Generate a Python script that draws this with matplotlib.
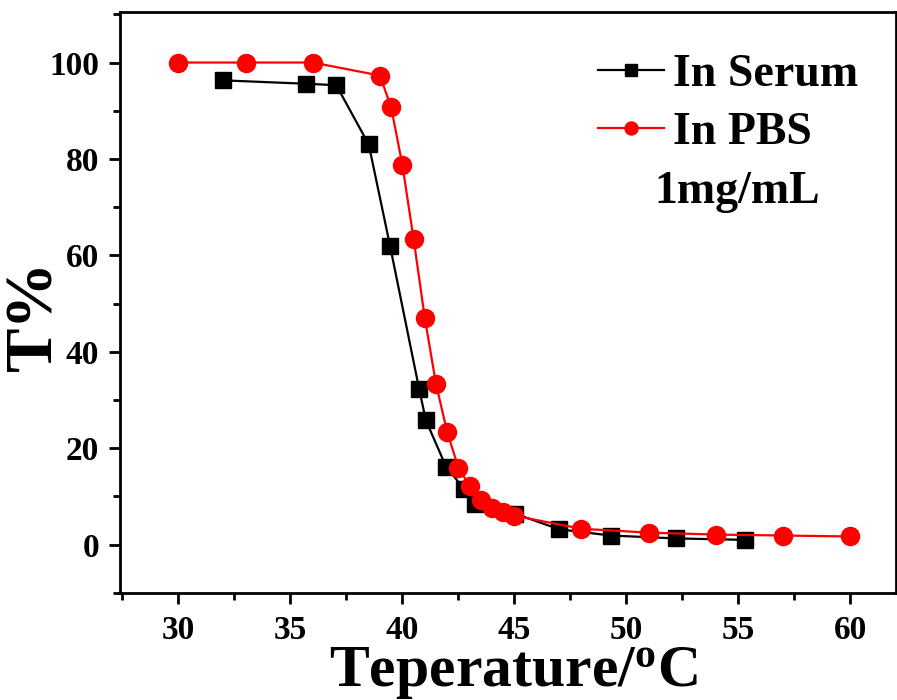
import matplotlib
matplotlib.use("Agg")
import matplotlib.pyplot as plt
from matplotlib.ticker import MultipleLocator

serum_x = [32.0, 35.7, 37.05, 38.5, 39.45, 40.75, 41.05, 41.95, 42.75, 43.25, 45.05, 47.0, 49.3, 52.2, 55.3]
serum_y = [96.3, 95.6, 95.3, 83.0, 62.0, 32.3, 25.8, 16.2, 11.6, 8.5, 6.4, 3.2, 1.9, 1.3, 1.0]

pbs_x = [30, 33, 36, 39, 39.5, 40, 40.5, 41, 41.5, 42, 42.5, 43, 43.5, 44, 44.5, 45, 48, 51, 54, 57, 60]
pbs_y = [100, 100, 100, 97.3, 90.7, 78.8, 63.5, 47.1, 33.4, 23.4, 16.0, 12.2, 9.3, 7.7, 6.8, 6.0, 3.3, 2.5, 2.1, 1.9, 1.7]

xticks = [30, 35, 40, 45, 50, 55, 60]
yticks = [0, 20, 40, 60, 80, 100]

plt.rcParams['font.family'] = ['Liberation Serif', 'DejaVu Serif']
plt.rcParams['font.weight'] = 'bold'
plt.rcParams['mathtext.default'] = 'regular'

fig = plt.figure(figsize=(8.97, 7.0), dpi=100)
ax = fig.add_axes([0.134, 0.153, 0.865, 0.830])

ax.plot(serum_x, serum_y, color='black', lw=1.6, marker='s', ms=12, label='In Serum', zorder=3)
ax.plot(pbs_x, pbs_y, color='#ff0000', lw=1.6, marker='o', ms=13, label='In PBS', zorder=4)

ax.set_xlim(27.4, 62.05)
ax.set_ylim(-10, 110.5)
ax.set_xticks(xticks)
ax.set_yticks(yticks)
ax.xaxis.set_minor_locator(MultipleLocator(2.5))
ax.yaxis.set_minor_locator(MultipleLocator(10))

for s in ax.spines.values():
    s.set_linewidth(2)
ax.tick_params(which='major', direction='out', length=8, width=2, labelsize=24)
ax.tick_params(axis='x', which='major', pad=8)
ax.tick_params(axis='y', which='major', pad=7)
ax.tick_params(which='minor', direction='out', length=5, width=2)
ax.tick_params(top=False, right=False, which='both')
for lab in ax.get_xticklabels() + ax.get_yticklabels():
    lab.set_fontweight('bold')

ax.set_xlabel('Teperature/$^\\mathregular{o}$C', fontsize=43, fontweight='bold')
ax.xaxis.label.set_va('baseline')
ax.xaxis.set_label_coords(0.506, -0.160)
ax.set_ylabel('T%', fontsize=48, fontweight='bold')
ax.yaxis.label.set_va('center')
ax.yaxis.set_label_coords(-0.110, 0.478)

leg = ax.legend(loc='upper left', bbox_to_anchor=(598 / 897, 1 - 54 / 700), bbox_transform=fig.transFigure,
                frameon=False, prop={'size': 33, 'weight': 'bold'}, handlelength=1.45,
                handletextpad=0.18, labelspacing=0.35, borderpad=0.0, borderaxespad=0.0,
                markerscale=0.72)
fig.text(737 / 897, 1 - 192 / 700, '1mg/mL', fontsize=33, fontweight='bold', ha='center', va='center')

fig.savefig('out.png', dpi=100)
